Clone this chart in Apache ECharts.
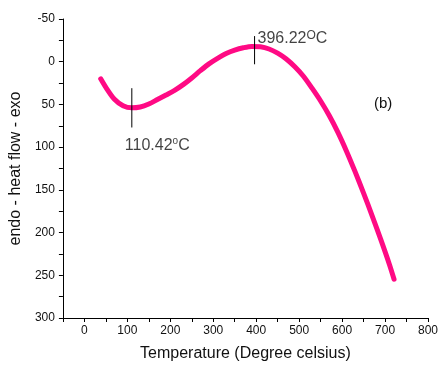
<!DOCTYPE html>
<html>
<head>
<meta charset="utf-8">
<script src="https://cdn.jsdelivr.net/npm/echarts@6/dist/echarts.min.js"></script>
<style>
html, body { margin: 0; padding: 0; background: #fff; }
#chart { width: 441px; height: 367px; }
</style>
</head>
<body>
<div id="chart"></div>
<script>
// temperature (deg C) and heat flow
var temps = [38, 50, 70, 90, 110, 130, 150, 170, 190, 210, 230, 250, 270, 290, 310, 330, 350, 370, 390,
    410, 430, 450, 470, 490, 510, 530, 550, 570, 590, 610, 630, 650, 670, 690, 710, 721];
var heatFlow = [20, 30, 44, 51.5, 54, 53, 49.5, 44.3, 39, 33.5, 26.8, 19, 10.5, 2.5, -4, -9.5, -13.5, -16.3, -17.9,
    -17.5, -14.9, -10.1, -3.2, 5.9, 17, 31, 46, 63, 82.4, 104.4, 128.4, 153.8, 180.4, 208, 237, 254.6];

// peak markers: temperature, top and bottom of the little vertical bar
var peakTemps = [110.42, 396.22];
var peakTop = [31, -30];
var peakBottom = [77, 3];

var curve = temps.map(function (t, i) { return [t, heatFlow[i]]; });

var chart = echarts.init(document.getElementById('chart'));

var font = 'Liberation Sans, Arial, sans-serif';

var markerSeries = peakTemps.map(function (t, i) {
    return {
        type: 'line',
        data: [[t, peakTop[i]], [t, peakBottom[i]]],
        symbol: 'none',
        silent: true,
        lineStyle: { color: '#000', width: 1 },
        z: 3
    };
});

var option = {
    animation: false,
    backgroundColor: '#fff',
    grid: { left: 57, right: 10, top: 19, bottom: 45 },
    xAxis: {
        type: 'value',
        min: -50,
        max: 800,
        interval: 50,
        name: 'Temperature (Degree celsius)',
        nameLocation: 'middle',
        nameGap: 28,
        nameTextStyle: { fontFamily: font, fontSize: 16, color: '#111' },
        axisLine: { onZero: false, lineStyle: { color: '#000', width: 1 } },
        axisTick: { length: 4, lineStyle: { color: '#000' } },
        axisLabel: {
            fontFamily: font, fontSize: 12, color: '#111', margin: 7,
            formatter: function (v) { return (v % 100 === 0) ? String(v) : ''; }
        },
        splitLine: { show: false }
    },
    yAxis: {
        type: 'value',
        inverse: true,
        min: -50,
        max: 300,
        interval: 50,
        name: 'endo - heat flow - exo',
        nameLocation: 'middle',
        nameGap: 38,
        nameTextStyle: { fontFamily: font, fontSize: 16, color: '#111' },
        axisLine: { show: true, onZero: false, lineStyle: { color: '#000', width: 1 } },
        axisTick: { show: true, length: 4, lineStyle: { color: '#000' } },
        minorTick: { show: true, splitNumber: 2, length: 4, lineStyle: { color: '#000' } },
        axisLabel: { fontFamily: font, fontSize: 12, color: '#111', margin: 8 },
        splitLine: { show: false }
    },
    graphic: [{
        type: 'text',
        left: 374,
        top: 96,
        style: { text: '(b)', font: '15px ' + font, fill: '#111' }
    }],
    series: [{
        type: 'line',
        data: curve,
        smooth: 0.3,
        symbol: 'none',
        lineStyle: { color: '#ff0a84', width: 5, cap: 'round', join: 'round' },
        z: 2
    }].concat(markerSeries).concat([{
        type: 'scatter',
        symbolSize: 0,
        silent: true,
        data: [[peakTemps[0], peakBottom[0]], [peakTemps[1], peakTop[1]]],
        label: {
            show: true,
            fontFamily: font,
            color: '#111',
            formatter: function (p) {
                if (p.dataIndex === 0) return '{a|110.42}{s|o}{a|C}';
                return '{a|396.22}{b|O}{a|C}';
            },
            position: 'inside',
            rich: {
                a: { fontFamily: font, fontSize: 16, lineHeight: 18, color: '#111' },
                s: { fontFamily: font, fontSize: 10, lineHeight: 18, verticalAlign: 'top', color: '#111' },
                b: { fontFamily: font, fontSize: 12, lineHeight: 18, verticalAlign: 'top', color: '#111' }
            }
        },
        labelLayout: function (params) {
            if (params.dataIndex === 0) {
                return { x: params.rect.x - 7, y: params.rect.y + 9, align: 'left', verticalAlign: 'top' };
            }
            return { x: params.rect.x + 3, y: params.rect.y - 6, align: 'left', verticalAlign: 'top' };
        }
    }])
};

chart.setOption(option);
</script>
</body>
</html>
